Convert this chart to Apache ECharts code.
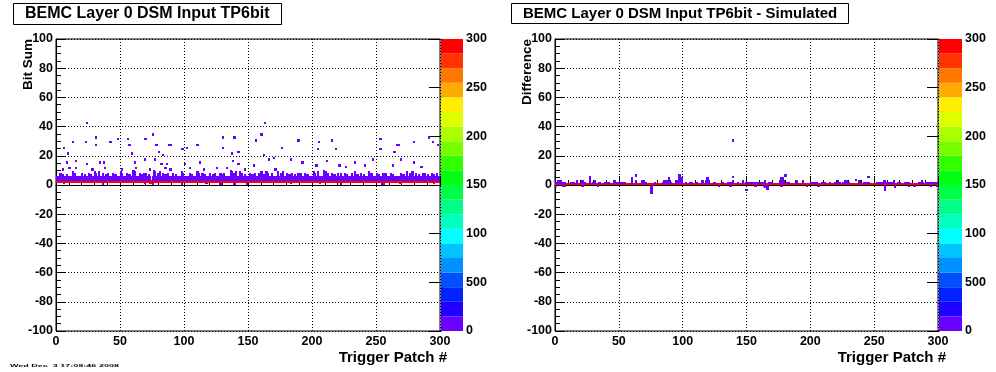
<!DOCTYPE html>
<html><head><meta charset="utf-8">
<script src="https://cdn.jsdelivr.net/npm/echarts@6/dist/echarts.min.js"></script>
<style>html,body{margin:0;padding:0;background:#fff}#c{width:996px;height:372px}</style>
</head><body><div id="c"></div>
<script>
// ---------------- data ----------------
const patchCount = 300;
const titles = ['BEMC Layer 0 DSM Input TP6bit', 'BEMC Layer 0 DSM Input TP6bit - Simulated'];
const yTitles = ['Bit Sum', 'Difference'];
const xTitle = 'Trigger Patch #';
const footerText = 'Wed Dec  3 17:09:46 2008';
const colorBarEdges = [0,15,30,45,60,75,90,105,120,135,150,165,180,195,210,225,240,255,270,285,300];
const colorBarTickLabels = {0:'0',50:'500',100:'100',150:'150',200:'200',250:'250',300:'300'};

// Bit Sum: every patch has a dominant bin (red) and a low-count band above it
const bitSumCoreBins = [2, 3, 4, 5];
const bitSumCoreCounts = [290, 8, 6, 4];
const bitSumGapPatches = [74, 166, 266];
const bitSumSpikes = [[3,7],[5,6],[8,6],[13,8],[14,7],[20,7],[22,6],[25,7],[27,6],[30,8],[31,7],[33,8],[36,7],[39,6],[40,7],[44,7],[46,6],[50,8],[51,7],[55,7],[57,6],[60,9],[61,8],[65,7],[67,6],[68,7],[70,7],[72,6],[76,9],[77,8],[79,7],[81,8],[83,7],[85,6],[87,7],[91,7],[93,6],[98,8],[99,7],[104,7],[106,6],[110,8],[111,7],[114,7],[116,6],[120,7],[122,6],[124,7],[128,7],[130,6],[131,7],[136,9],[137,8],[139,7],[140,8],[143,8],[145,7],[147,6],[151,7],[153,6],[155,7],[158,7],[160,8],[162,6],[164,8],[165,7],[168,7],[173,8],[175,7],[177,8],[180,7],[182,6],[184,7],[186,6],[189,7],[191,7],[194,7],[196,6],[201,8],[202,7],[204,8],[209,9],[210,8],[212,7],[215,7],[217,6],[220,7],[222,7],[225,7],[227,6],[231,7],[233,8],[235,6],[238,7],[240,6],[244,8],[246,7],[250,7],[252,6],[255,7],[257,7],[261,7],[263,6],[269,7],[271,6],[274,8],[276,7],[278,8],[281,7],[283,6],[286,7],[288,7],[290,6],[293,7],[295,6],[297,7]];
const bitSumSpikeCount = 3;
const bitSumLowCells = [[6,2,240],[6,1,5],[36,0,5],[69,1,5],[73,1,290],[74,1,290],[75,0,5],[98,0,5],[117,1,5],[128,0,5],[139,0,5],[149,0,5],[183,1,5],[206,1,290],[222,0,5],[254,0,5],[255,0,5],[256,0,5],[268,1,290],[269,1,290],[295,1,290]];
const bitSumOutliers = [[24,42],[13,29],[23,29],[6,25],[9,21],[31,27],[31,32],[42,29],[48,31],[56,31],[57,27],[69,31],[70,31],[59,21],[75,34],[78,27],[80,22],[88,27],[89,27],[83,20],[98,24],[99,24],[102,25],[110,27],[130,32],[139,32],[130,25],[137,21],[142,22],[15,16],[15,11],[8,15],[24,14],[34,15],[37,15],[61,15],[69,17],[77,17],[82,14],[86,14],[100,14],[112,15],[138,16],[142,14],[5,10],[10,11],[28,10],[38,11],[51,10],[62,11],[73,10],[85,11],[89,10],[104,11],[115,10],[125,11],[133,11],[147,10],[163,42],[160,34],[156,30],[189,30],[205,29],[215,30],[176,25],[204,24],[218,24],[162,20],[170,18],[253,31],[253,24],[266,27],[267,27],[264,22],[279,29],[291,32],[294,29],[298,27],[154,13],[166,17],[183,17],[192,15],[211,16],[233,15],[241,13],[247,17],[263,13],[269,17],[279,15],[285,12],[203,13],[221,13],[171,10],[226,12]];

// Difference: dominant bin 0 for every patch, small deviations around it
const diffCoreBin = 0;
const diffCoreCount = 290;
const diffUp = [[0,5,1],[2,4,2],[7,7,1],[12,14,1],[17,17,2],[21,21,2],[23,23,1],[27,27,4],[29,29,1],[31,31,2],[34,35,1],[39,42,1],[46,46,2],[48,52,1],[54,54,1],[60,60,4],[63,63,2],[68,69,2],[71,71,1],[78,78,1],[84,90,1],[85,88,2],[89,89,4],[94,99,2],[97,99,4],[102,102,1],[105,107,1],[111,111,1],[115,115,2],[118,120,2],[119,119,4],[124,125,1],[131,131,1],[135,137,1],[139,139,2],[143,143,1],[147,147,2],[149,151,1],[153,155,1],[157,159,1],[161,162,1],[164,164,2],[167,169,1],[176,179,2],[177,178,4],[181,183,1],[188,189,2],[194,194,2],[200,205,1],[209,211,1],[215,215,1],[219,223,1],[221,221,2],[225,230,1],[227,228,2],[238,238,2],[242,245,1],[252,256,1],[257,258,2],[258,265,1],[265,265,2],[268,270,1],[274,277,1],[285,288,1],[287,287,2],[290,295,1],[296,299,1]];
const diffDown = [[0,-1],[6,-1],[7,-1],[21,-1],[33,-1],[75,-6],[128,-1],[137,-1],[156,-1],[157,-1],[163,-1],[164,-2],[165,-1],[166,-3],[177,-1],[197,-1],[206,-1],[258,-4],[266,-2],[277,-1],[281,-1],[294,-1],[299,-1]];
const diffOutliers = [[139,30],[27,5],[63,6],[97,6],[139,5],[180,6],[245,5],[235,3],[149,-4],[150,-4]];
const diffSmallCount = 4;

// ---------------- styles ----------------
const paletteColors = ['#6a00ff','#2200ff','#0022ff','#0050ff','#0090ff','#00c4ff','#00ffff','#00ffc0','#00ff88','#00ff44','#00ff10','#33ff00','#77ff00','#aaff00','#ddff00','#ffee00','#ffaa00','#ff7700','#ff3300','#ff0000'];
const FONT = 'Liberation Sans';

// ---------------- build cells ----------------
function cellStore(){ const m = new Map(); return {
  add(x,y,v){ const k=x+','+y; if(!m.has(k) || m.get(k)[2] < v) m.set(k,[x,y,v]); },
  list(){ return Array.from(m.values()).sort((a,b)=>a[1]-b[1] || a[0]-b[0]); } }; }

const bs = cellStore();
for (let p = 0; p < patchCount; p++) {
  const gap = bitSumGapPatches.includes(p);
  bitSumCoreBins.forEach((b,i) => { if (i === 0 || !gap) bs.add(p, b, bitSumCoreCounts[i]); });
}
bitSumSpikes.forEach(([p,t]) => { for (let b=6;b<=t;b++) bs.add(p,b,bitSumSpikeCount); });
bitSumLowCells.forEach(([p,b,v]) => bs.add(p,b,v));
bitSumOutliers.forEach(([p,b]) => bs.add(p,b,1));

const df = cellStore();
for (let p = 0; p < patchCount; p++) df.add(p, diffCoreBin, diffCoreCount);
diffUp.forEach(([s,e,t]) => { for (let p=s;p<=e;p++) for (let b=1;b<=t;b++) df.add(p,b,diffSmallCount); });
diffDown.forEach(([p,bot]) => { for (let b=-1;b>=bot;b--) df.add(p,b,diffSmallCount); });
diffOutliers.forEach(([p,b]) => df.add(p,b,1));

const colorBarData = colorBarEdges.slice(0,-1).map((lo,i)=>[lo, colorBarEdges[i+1], i]);

// ---------------- chart ----------------
const chart = echarts.init(document.getElementById('c'), null, {renderer:'canvas'});
const labelStyle = {color:'#000', fontSize:12.5, fontWeight:'bold', fontFamily:FONT};
const dotted = {show:true, lineStyle:{color:'#000', width:1, type:[1,2]}};
const blackLine = {show:true, lineStyle:{color:'#000', width:1}};

function mainX(gi){ return {type:'value', gridIndex:gi, min:0, max:300, interval:50,
  axisLine:blackLine, axisTick:{show:true, inside:true, length:9, lineStyle:{color:'#000'}},
  minorTick:{show:true, splitNumber:5, length:5, lineStyle:{color:'#000'}},
  splitLine:dotted, axisLabel:Object.assign({margin:4}, labelStyle)}; }
function mainY(gi){ return {type:'value', gridIndex:gi, min:-100, max:100, interval:20,
  axisLine:blackLine, axisTick:{show:true, inside:true, length:9, lineStyle:{color:'#000'}},
  minorTick:{show:true, splitNumber:4, length:5, lineStyle:{color:'#000'}},
  splitLine:dotted, axisLabel:Object.assign({margin:3}, labelStyle)}; }
function barX(gi){ return {type:'value', gridIndex:gi, min:0, max:1, show:false}; }
function barY(gi){ return {type:'value', gridIndex:gi, min:0, max:300, interval:50, position:'right',
  axisLine:blackLine, axisTick:{show:true, inside:true, length:12, lineStyle:{color:'#000'}},
  splitLine:{show:false},
  axisLabel:Object.assign({margin:3, formatter:v=>colorBarTickLabels[v] ?? String(v)}, labelStyle)}; }

function cellRender(params, api){
  const x = api.value(0), y = api.value(1);
  const a = api.coord([x, y+1]), b = api.coord([x+1, y]);
  const x0 = Math.floor(a[0]), x1 = Math.ceil(b[0]);
  const y0 = Math.floor(a[1]), y1 = Math.ceil(b[1]);
  return {type:'rect', shape:{x:x0, y:y0, width:Math.max(1,x1-x0), height:Math.max(1,y1-y0)},
    style:{fill:api.visual('color')}};
}
function barRender(params, api){
  const a = api.coord([0, api.value(1)]), b = api.coord([1, api.value(0)]);
  return {type:'rect', shape:{x:a[0], y:a[1], width:b[0]-a[0], height:b[1]-a[1]},
    style:{fill:paletteColors[api.value(2)]}};
}

const titleBox = (text, left, size, padH) => ({text, left, top:3, padding:[3,padH,3,padH],
  borderColor:'#000', borderWidth:1, backgroundColor:'#fff',
  textStyle:{fontSize:size, fontWeight:'bold', color:'#000', fontFamily:FONT}});

const axisTitle = (text, x, y, rot, align, size) => ({type:'text', x, y, rotation:rot,
  style:{text, align, verticalAlign:'middle', fill:'#000', font:'bold '+size+'px "'+FONT+'"'}});

chart.setOption({
  animation:false,
  backgroundColor:'#fff',
  title:[titleBox(titles[0], 13, 16, 12), titleBox(titles[1], 511, 15, 12)],
  grid:[
    {left:56, top:39, width:384, height:292, show:true, borderColor:'#000', borderWidth:1, backgroundColor:'#fff'},
    {left:441, top:39, width:22, height:292},
    {left:555, top:39, width:383, height:292, show:true, borderColor:'#000', borderWidth:1, backgroundColor:'#fff'},
    {left:939, top:39, width:23, height:292}
  ],
  xAxis:[mainX(0), barX(1), mainX(2), barX(3)],
  yAxis:[mainY(0), barY(1), mainY(2), barY(3)],
  visualMap:{type:'piecewise', show:false, seriesIndex:[0,1], dimension:2,
    pieces:colorBarData.map(([lo,hi,i])=>({gte:lo, lt:(i===colorBarData.length-1?hi+1:hi), color:paletteColors[i]}))},
  series:[
    {type:'custom', xAxisIndex:0, yAxisIndex:0, data:bs.list(), renderItem:cellRender, clip:true, silent:true, progressive:0},
    {type:'custom', xAxisIndex:2, yAxisIndex:2, data:df.list(), renderItem:cellRender, clip:true, silent:true, progressive:0},
    {type:'custom', xAxisIndex:1, yAxisIndex:1, data:colorBarData, renderItem:barRender, silent:true, z:1},
    {type:'custom', xAxisIndex:3, yAxisIndex:3, data:colorBarData, renderItem:barRender, silent:true, z:1}
  ],
  graphic:[
    axisTitle(yTitles[0], 28, 39, Math.PI/2, 'right', 13.5),
    axisTitle(yTitles[1], 527, 39, Math.PI/2, 'right', 13.5),
    axisTitle(xTitle, 447, 358, 0, 'right', 15),
    axisTitle(xTitle, 946, 358, 0, 'right', 15),
    {type:'text', x:10, y:365, scaleY:0.3, style:{text:footerText, fill:'#000', font:'bold 9px "'+FONT+'"', verticalAlign:'top'}}
  ]
});
</script>
</body></html>
